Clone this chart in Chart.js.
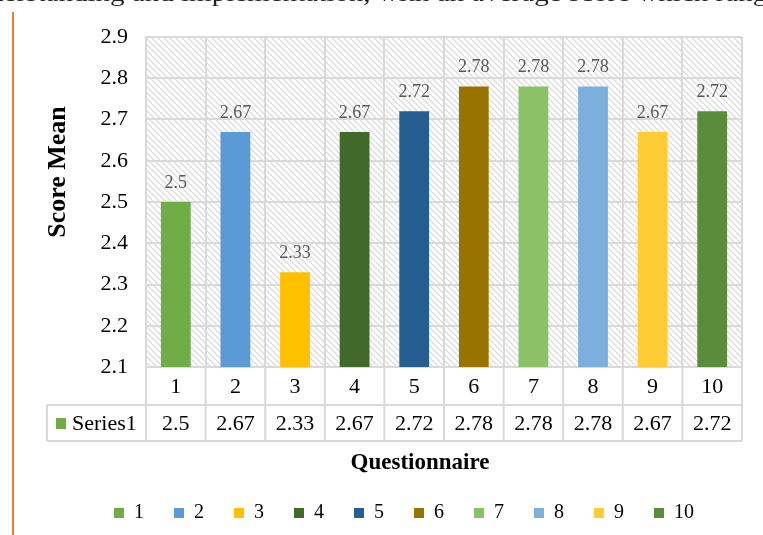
<!DOCTYPE html>
<html>
<head>
<meta charset="utf-8">
<script src="https://cdn.jsdelivr.net/npm/chart.js@4/dist/chart.umd.min.js"></script>
<style>
    html, body { margin: 0; padding: 0; background: #fff; overflow: hidden; }
    #wrap { position: relative; width: 763px; height: 535px; overflow: hidden; }
    #chart { position: absolute; left: 0; top: 0; }
    .cut-text {
        position: absolute; left: -40px; top: -19px; white-space: nowrap;
        font-family: 'Liberation Serif', serif; font-size: 24px; line-height: 24px; color: #222;
        transform: scaleX(1.21); transform-origin: left top;
    }
    .margin-line { position: absolute; left: 12px; top: 12px; width: 2px; height: 523px; background: #ED7D31; }
</style>
</head>
<body>
<div id="wrap">
    <canvas id="chart" width="763" height="535"></canvas>
    <div class="cut-text">understanding and implementation, with an average score which ranged</div>
    <div class="margin-line"></div>
</div>
<script>
// Chart data
const questions = ['1', '2', '3', '4', '5', '6', '7', '8', '9', '10'];
const scoreMeans = [2.5, 2.67, 2.33, 2.67, 2.72, 2.78, 2.78, 2.78, 2.67, 2.72];
const barColors = ['#70AD47', '#5B9BD5', '#FFC000', '#43682B', '#255E91',
                   '#997300', '#8CC168', '#7CAFDD', '#FFCD33', '#5B8C3B'];
const yTicks = [2.1, 2.2, 2.3, 2.4, 2.5, 2.6, 2.7, 2.8, 2.9];
const seriesName = 'Series1';
const yTitle = 'Score Mean';
const xTitle = 'Questionnaire';

const SERIF = "'Liberation Serif', 'Times New Roman', serif";
const GRID = '#D9D9D9';

// Diagonal hatch used behind the bars
function makeHatch(ctx) {
    const tile = document.createElement('canvas');
    tile.width = 6;
    tile.height = 6;
    const t = tile.getContext('2d');
    t.fillStyle = '#fff';
    t.fillRect(0, 0, 6, 6);
    t.strokeStyle = '#DCDCDC';
    t.lineWidth = 1.3;
    t.beginPath();
    t.moveTo(-1, -1); t.lineTo(7, 7);
    t.moveTo(-4, 2); t.lineTo(4, 10);
    t.moveTo(2, -4); t.lineTo(10, 4);
    t.stroke();
    return ctx.createPattern(tile, 'repeat');
}

const hatchBackground = {
    id: 'hatchBackground',
    beforeDraw(chart) {
        const { ctx, chartArea: a } = chart;
        ctx.save();
        ctx.fillStyle = makeHatch(ctx);
        ctx.fillRect(a.left, a.top, a.right - a.left, a.bottom - a.top);
        ctx.restore();
    }
};

// Value labels above each bar
const valueLabels = {
    id: 'valueLabels',
    afterDatasetsDraw(chart) {
        const { ctx } = chart;
        const meta = chart.getDatasetMeta(0);
        ctx.save();
        ctx.font = '18px ' + SERIF;
        ctx.fillStyle = '#595959';
        ctx.textAlign = 'center';
        ctx.textBaseline = 'bottom';
        meta.data.forEach((bar, i) => {
            ctx.fillText(String(scoreMeans[i]), bar.x, bar.y - 10);
        });
        ctx.restore();
    }
};

// Excel style data table under the plot + axis titles
const dataTable = {
    id: 'dataTable',
    afterDraw(chart) {
        const { ctx, chartArea: a } = chart;
        const x = chart.scales.x;
        const half = (x.getPixelForValue(1) - x.getPixelForValue(0)) / 2;
        const row1 = a.bottom + 38;
        const row2 = row1 + 36;
        const leftEdge = 47;

        ctx.save();
        ctx.strokeStyle = GRID;
        ctx.lineWidth = 2;
        ctx.beginPath();
        ctx.moveTo(leftEdge, row1); ctx.lineTo(a.right, row1);
        ctx.moveTo(leftEdge, row2); ctx.lineTo(a.right, row2);
        ctx.moveTo(leftEdge, row1); ctx.lineTo(leftEdge, row2);
        questions.forEach((q, i) => {
            const px = x.getPixelForValue(i) - half;
            ctx.moveTo(px, a.bottom); ctx.lineTo(px, row2);
        });
        ctx.moveTo(a.right, a.bottom); ctx.lineTo(a.right, row2);
        ctx.stroke();

        ctx.font = '22px ' + SERIF;
        ctx.fillStyle = '#000';
        ctx.textAlign = 'center';
        ctx.textBaseline = 'middle';
        questions.forEach((q, i) => {
            const px = x.getPixelForValue(i);
            ctx.fillText(q, px, (a.bottom + row1) / 2 + 1);
            ctx.fillText(String(scoreMeans[i]), px, (row1 + row2) / 2 + 1);
        });

        // legend key + series name
        ctx.fillStyle = barColors[0];
        ctx.fillRect(56, (row1 + row2) / 2 - 5, 10, 11);
        ctx.fillStyle = '#000';
        ctx.textAlign = 'left';
        ctx.fillText(seriesName, 72, (row1 + row2) / 2 + 1);

        // axis titles
        ctx.font = 'bold 23px ' + SERIF;
        ctx.textAlign = 'center';
        ctx.fillText(xTitle, 420, row2 + 22);

        ctx.translate(57, 172);
        ctx.rotate(-Math.PI / 2);
        ctx.font = 'bold 26px ' + SERIF;
        ctx.fillText(yTitle, 0, 1);
        ctx.restore();
    }
};

const ctx = document.getElementById('chart').getContext('2d');
const chart = new Chart(ctx, {
    type: 'bar',
    data: {
        labels: questions,
        datasets: [{
            label: seriesName,
            data: scoreMeans,
            backgroundColor: barColors,
            borderWidth: 0,
            categoryPercentage: 1,
            barPercentage: 0.5
        }]
    },
    options: {
        responsive: false,
        animation: false,
        devicePixelRatio: 1,
        layout: { padding: { left: 66, right: 21, top: 37, bottom: 2 } },
        plugins: {
            tooltip: { enabled: false },
            legend: {
                position: 'bottom',
                labels: {
                    boxWidth: 10,
                    boxHeight: 10,
                    padding: 30,
                    color: '#595959',
                    font: { family: SERIF, size: 20 },
                    generateLabels: () => questions.map((q, i) => ({
                        text: q,
                        fillStyle: barColors[i],
                        strokeStyle: barColors[i],
                        lineWidth: 0,
                        hidden: false,
                        index: i
                    }))
                }
            }
        },
        scales: {
            x: {
                offset: true,
                ticks: { display: false },
                grid: { offset: true, color: GRID, lineWidth: 2, drawTicks: false },
                border: { display: true, color: GRID, width: 2 },
                afterFit: (scale) => { scale.height = 106; }
            },
            y: {
                min: yTicks[0],
                max: yTicks[yTicks.length - 1],
                afterBuildTicks: (scale) => { scale.ticks = yTicks.map(v => ({ value: v })); },
                ticks: {
                    padding: 18,
                    color: '#000',
                    font: { family: SERIF, size: 22 },
                    callback: (v) => Number(v).toFixed(1)
                },
                grid: { color: GRID, lineWidth: 2, drawTicks: false },
                border: { display: true, color: GRID, width: 2 },
                afterFit: (scale) => { scale.width = 80; }
            }
        }
    },
    plugins: [hatchBackground, valueLabels, dataTable]
});
</script>
</body>
</html>
